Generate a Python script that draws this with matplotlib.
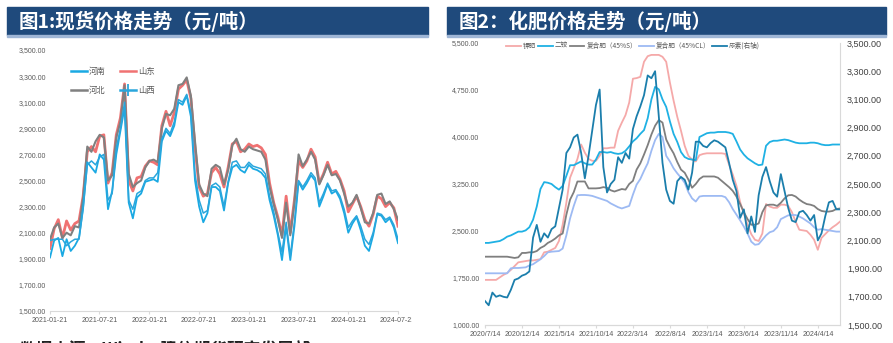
import numpy as np
import pandas as pd
import matplotlib
matplotlib.use("Agg")
import matplotlib.pyplot as plt
import matplotlib.ticker as mticker
from matplotlib.lines import Line2D
from matplotlib.patches import Rectangle
from matplotlib.transforms import Bbox, TransformedBbox

plt.rcParams['font.family'] = ['Noto Sans CJK SC', 'DejaVu Sans']

# ---- 图1 现货价格 (semi-monthly samples, 2021-01-21 .. 2024-07-21)
spot_dates = pd.date_range('2021-01-21', '2024-07-21', periods=85)
henan = [1910, 2040, 2060, 1920, 2050, 1960, 2000, 2060, 2300, 2640,
         2600, 2560, 2700, 2660, 2280, 2420, 2700, 2880, 3060, 2330,
         2210, 2370, 2400, 2490, 2500, 2510, 2490, 2800, 2880, 2840,
         2920, 3100, 3080, 3150, 2990, 2500, 2300, 2180, 2250, 2450,
         2450, 2420, 2270, 2480, 2600, 2620, 2580, 2560, 2620, 2590,
         2580, 2560, 2520, 2350, 2230, 2080, 1890, 2150, 1890, 2150,
         2490, 2430, 2480, 2540, 2500, 2300, 2380, 2470, 2400, 2420,
         2360, 2250, 2100, 2170, 2220, 2120, 2000, 1960, 2080, 2240,
         2230, 2180, 2210, 2140, 2020]
shandong = [1980, 2130, 2200, 2060, 2190, 2120, 2170, 2190, 2380, 2720,
            2760, 2720, 2840, 2850, 2480, 2560, 2850, 2980, 3240, 2500,
            2420, 2520, 2530, 2610, 2650, 2640, 2620, 2920, 3030, 2920,
            3020, 3200, 3230, 3270, 3130, 2750, 2450, 2380, 2400, 2560,
            2600, 2550, 2450, 2600, 2780, 2800, 2720, 2740, 2780, 2760,
            2770, 2750, 2700, 2480, 2330, 2220, 2080, 2380, 2100, 2350,
            2650, 2600, 2650, 2740, 2680, 2480, 2550, 2640, 2550, 2570,
            2510, 2420, 2260, 2320, 2380, 2300, 2200, 2150, 2240, 2380,
            2360, 2300, 2330, 2290, 2150]
hebei = [2050, 2140, 2170, 2060, 2100, 2080, 2150, 2140, 2370, 2760,
         2720, 2800, 2850, 2830, 2500, 2540, 2830, 2950, 3230, 2550,
         2450, 2480, 2500, 2600, 2650, 2660, 2640, 2900, 3010, 3000,
         3050, 3230, 3240, 3290, 3150, 2800, 2470, 2400, 2380, 2590,
         2620, 2600, 2470, 2580, 2770, 2820, 2740, 2720, 2760, 2740,
         2730, 2720, 2660, 2450, 2320, 2200, 2060, 2330, 2080, 2330,
         2700, 2610, 2660, 2720, 2660, 2470, 2540, 2620, 2540, 2550,
         2500, 2400, 2300, 2330, 2390, 2290, 2180, 2170, 2250, 2390,
         2400, 2320, 2340, 2280, 2200]
shanxi = [2040, 2050, 2050, 2050, 2000, 2030, 2050, 2050, 2280, 2620,
          2650, 2620, 2680, 2700, 2350, 2400, 2750, 2900, 3100, 2350,
          2280, 2400, 2420, 2500, 2520, 2520, 2560, 2820, 2900, 2860,
          2950, 3120, 3100, 3160, 3020, 2550, 2350, 2250, 2270, 2460,
          2480, 2450, 2300, 2490, 2640, 2650, 2600, 2600, 2640, 2610,
          2600, 2590, 2550, 2380, 2260, 2100, 1950, 2180, 1920, 2180,
          2500, 2450, 2500, 2560, 2520, 2330, 2400, 2480, 2420, 2430,
          2380, 2280, 2140, 2190, 2230, 2150, 2050, 2010, 2100, 2250,
          2240, 2200, 2220, 2160, 2050]
spot_ticks = pd.to_datetime(['2021-01-21', '2021-07-21', '2022-01-21', '2022-07-21',
                             '2023-01-21', '2023-07-21', '2024-01-21', '2024-07-21'])

# ---- 图2 化肥价格 (semi-monthly samples, 2020-07-14 .. 2024-07-14)
fert_dates = pd.date_range('2020-07-14', '2024-07-14', periods=97)
potash = [1720, 1720, 1720, 1720, 1760, 1800, 1830, 1880, 1940, 2000,
          2010, 2020, 2030, 2030, 2040, 2050, 2160, 2170, 2200, 2230,
          2340, 2600, 2950, 3350, 3500, 3650, 3880, 3750, 3650, 3620,
          3620, 3700, 3820, 3820, 3830, 3830, 4100, 4230, 4350, 4550,
          4930, 4940, 4960, 5200, 5290, 5310, 5310, 5310, 5280, 5200,
          4870, 4580, 4320, 4100, 3860, 3700, 3640, 3610, 3710, 3730,
          3740, 3740, 3740, 3740, 3740, 3730, 3560, 3400, 3220, 2960,
          2780, 2600, 2450, 2360, 2340, 2460, 2930, 2890, 2870, 2870,
          2920, 2920, 2900, 2800, 2650, 2520, 2510, 2500, 2440, 2360,
          2200, 2390, 2450, 2510, 2560, 2600, 2650]
dap = [2310, 2310, 2320, 2330, 2340, 2370, 2410, 2430, 2460, 2490,
       2490, 2510, 2560, 2680, 2890, 3170, 3280, 3270, 3250, 3200,
       3160, 3220, 3380, 3550, 3550, 3580, 3610, 3580, 3560, 3560,
       3640, 3760, 3760, 3750, 3760, 3740, 3730, 3740, 3780, 3850,
       3930, 3980, 4050, 4110, 4300, 4600, 4800, 4760, 4600, 4480,
       4250, 4050, 3920, 3760, 3680, 3650, 3640, 3630, 4000, 4030,
       4060, 4070, 4070, 4080, 4080, 4080, 4070, 4050, 3930, 3800,
       3720, 3660, 3620, 3580, 3550, 3560, 3860, 3920, 3940, 3940,
       3950, 3960, 3950, 3930, 3910, 3900, 3900, 3900, 3910, 3910,
       3900, 3880, 3870, 3870, 3880, 3880, 3880]
npk_s = [2090, 2090, 2090, 2090, 2090, 2090, 2090, 2080, 2070, 2080,
         2150, 2150, 2160, 2160, 2180, 2230, 2260, 2310, 2340, 2380,
         2430, 2460, 2760, 3000, 3120, 3290, 3290, 3290, 3180, 3180,
         3180, 3185, 3200, 3190, 3150, 3130, 3150, 3170, 3160, 3250,
         3300, 3480, 3580, 3720, 3870, 4040, 4180, 4270, 4230, 3960,
         3840, 3740, 3600, 3480, 3430, 3320, 3190, 3250, 3330, 3370,
         3370, 3370, 3370, 3350, 3300, 3250, 3200, 3140, 3050, 2930,
         2800, 2690, 2600, 2600, 2620, 2800, 2910, 2920, 2920, 2900,
         2950, 3020, 3070, 3075, 3050, 3000, 2960, 2930, 2920, 2900,
         2850, 2820, 2810, 2810, 2820, 2850, 2860]
npk_cl = [1825, 1825, 1825, 1825, 1825, 1825, 1825, 1905, 1910, 1910,
          1915, 1920, 1950, 1970, 2010, 2050, 2100, 2160, 2170, 2175,
          2180, 2220, 2430, 2700, 2900, 3070, 3075, 3075, 3070, 3060,
          3040, 3020, 3000, 2980, 2940, 2910, 2880, 2860, 2880, 2900,
          3080, 3240, 3330, 3460, 3580, 3780, 3950, 4050, 4000, 3700,
          3610, 3500, 3420, 3350, 3270, 3120, 3020, 2970, 3050, 3060,
          3060, 3060, 3060, 3060, 3060, 3040, 2960, 2850, 2760, 2670,
          2570, 2460, 2330, 2280, 2290, 2360, 2430, 2480, 2500, 2560,
          2690, 2720, 2750, 2755, 2755, 2730, 2700, 2660, 2620, 2560,
          2520, 2530, 2520, 2510, 2500, 2490, 2490]
urea = [1670, 1640, 1730, 1700, 1710, 1700, 1695, 1750, 1820, 1830,
        1850, 1860, 1880, 2120, 2210, 2090, 2150, 2120, 2180, 2200,
        2330, 2460, 2720, 2760, 2830, 2850, 2720, 2540, 2700, 2880,
        3060, 3170, 2620, 2440, 2500, 2530, 2690, 2650, 2720, 2680,
        2890, 2980, 3050, 3130, 3270, 3250, 3300, 2980, 2650, 2460,
        2380, 2360, 2520, 2550, 2530, 2460, 2580, 2800, 2800, 2770,
        2760, 2790, 2810, 2800, 2780, 2760, 2650, 2530, 2450, 2260,
        2320, 2150, 2270, 2160, 2420, 2550, 2620, 2520, 2440, 2410,
        2570, 2450, 2330, 2240, 2230, 2300, 2310, 2280, 2240, 2280,
        2100, 2150, 2270, 2370, 2380, 2320, 2320]
fert_ticks = pd.to_datetime(['2020-07-14', '2020-12-14', '2021-05-14', '2021-10-14',
                             '2022-03-14', '2022-08-14', '2023-01-14', '2023-06-14',
                             '2023-11-14', '2024-04-14'])

W, H = 893, 343
fig = plt.figure(figsize=(W / 100, H / 100), dpi=100)
fig.patch.set_facecolor('white')

def fx(px):
    return px / W

def fy(py):
    return 1 - py / H

BAR = '#1f4a7c'
for x0, x1, title in [(7, 428, '图1:现货价格走势（元/吨）'),
                      (447, 886, '图2：化肥价格走势（元/吨）')]:
    fig.patches.append(Rectangle((fx(x0), fy(35)), fx(x1 - x0), 28 / H,
                                 transform=fig.transFigure, color=BAR, zorder=0))
    fig.patches.append(Rectangle((fx(x0), fy(36.5)), fx(x1 - x0), 1.5 / H,
                                 transform=fig.transFigure, color='#9fb6d6', zorder=0))
    fig.text(fx(x0 + 12), fy(21), title, color='white', fontsize=14,
             fontweight='bold', va='center', ha='left')

num_font = ['Liberation Sans', 'DejaVu Sans']
fmt = mticker.StrMethodFormatter('{x:,.2f}')

# ---------------- left panel
ax1 = fig.add_axes([fx(50), fy(311), fx(398 - 50), (311 - 50) / H])
c_henan, c_shandong, c_hebei, c_shanxi = '#1aa9e3', '#f07272', '#808080', '#2aa6dc'
ax1.plot(spot_dates, henan, color=c_henan, lw=1.3, zorder=3)
ax1.plot(spot_dates, shandong, color=c_shandong, lw=2.0, zorder=2)
ax1.plot(spot_dates, hebei, color=c_hebei, lw=1.5, zorder=2.5)
ax1.plot(spot_dates, shanxi, color=c_shanxi, lw=1.1, zorder=3)
ax1.set_xlim(spot_dates[0], spot_dates[-1])
ax1.set_ylim(1500, 3500)
ax1.set_yticks(np.arange(1500, 3501, 200))
ax1.yaxis.set_major_formatter(fmt)
ax1.set_xticks(spot_ticks)
ax1.set_xticklabels([d.strftime('%Y-%m-%d') for d in spot_ticks])
for s in ['top', 'right', 'left']:
    ax1.spines[s].set_visible(False)
ax1.spines['bottom'].set_color('#d9d9d9')
ax1.tick_params(axis='y', length=0, labelsize=5, labelcolor='#595959', pad=3)
ax1.tick_params(axis='x', length=2.5, color='#d9d9d9', labelsize=5,
                labelcolor='#595959', pad=2)
for lbl in ax1.get_yticklabels() + ax1.get_xticklabels():
    lbl.set_family(num_font)
clip = TransformedBbox(Bbox([[0, 0], [fx(412), 1]]), fig.transFigure)
for lbl in ax1.get_xticklabels():
    lbl.set_clip_box(clip)
    lbl.set_clip_on(True)

h_henan = Line2D([], [], color=c_henan, lw=1.8)
h_shandong = Line2D([], [], color=c_shandong, lw=1.8)
h_hebei = Line2D([], [], color=c_hebei, lw=1.8)
h_shanxi = Line2D([], [], color=c_shanxi, lw=1.8, marker='|', markersize=9,
                  markeredgewidth=1.3)
ax1.legend([h_henan, h_hebei, h_shandong, h_shanxi], ['河南', '河北', '山东', '山西'],
           ncol=2, loc='center', bbox_to_anchor=(fx(113), fy(81)),
           bbox_transform=fig.transFigure, frameon=False, fontsize=6,
           handlelength=1.9, handletextpad=0.3, columnspacing=1.7,
           labelspacing=1.3, labelcolor='#595959')

# ---------------- right panel
ax2 = fig.add_axes([fx(485), fy(325), fx(840 - 485), (325 - 43) / H])
ax3 = ax2.twinx()
c_potash, c_dap, c_s, c_cl, c_urea = '#f5a9a9', '#1fb1e4', '#7f7f7f', '#9dbaf3', '#1b7eac'
l1, = ax2.plot(fert_dates, potash, color=c_potash, lw=1.3)
l2, = ax2.plot(fert_dates, dap, color=c_dap, lw=1.3)
l3, = ax2.plot(fert_dates, npk_s, color=c_s, lw=1.3)
l4, = ax2.plot(fert_dates, npk_cl, color=c_cl, lw=1.3)
l5, = ax3.plot(fert_dates, urea, color=c_urea, lw=1.3)
ax2.set_xlim(fert_dates[0], fert_dates[-1])
ax2.set_ylim(1000, 5500)
ax2.set_yticks(np.arange(1000, 5501, 750))
ax3.set_ylim(1500, 3500)
ax3.set_yticks(np.arange(1500, 3501, 200))
ax2.yaxis.set_major_formatter(fmt)
ax3.yaxis.set_major_formatter(fmt)
ax2.set_xticks(fert_ticks)
ax2.set_xticklabels([f'{d.year}/{d.month}/{d.day}' for d in fert_ticks])
for a in (ax2, ax3):
    for s in ['top', 'left', 'right']:
        a.spines[s].set_visible(False)
    a.spines['bottom'].set_color('#d9d9d9')
ax3.spines['right'].set_visible(True)
ax3.spines['right'].set_color('#d9d9d9')
ax2.tick_params(axis='y', length=0, labelsize=5, labelcolor='#595959', pad=4)
ax3.tick_params(axis='y', length=0, labelsize=6.5, labelcolor='#404040', pad=5)
ax2.tick_params(axis='x', length=2.5, color='#d9d9d9', labelsize=5,
                labelcolor='#595959', pad=2)
for lbl in ax2.get_yticklabels() + ax2.get_xticklabels() + ax3.get_yticklabels():
    lbl.set_family(num_font)

ax2.legend([l1, l2, l3, l4, l5],
           ['钾肥', '二铵', '复合肥（45%S）', '复合肥（45%CL）', '尿素(右轴)'],
           ncol=5, loc='center', bbox_to_anchor=(fx(633), fy(46)),
           bbox_transform=fig.transFigure, frameon=False, fontsize=4.8,
           handlelength=2.2, handletextpad=0.3, columnspacing=0.3,
           labelcolor='#595959')

# source line along the bottom edge
fig.text(fx(20), fy(351), '数据来源：Wind，建信期货研究发展部', fontsize=12,
         fontweight='bold', color='#222222', va='center', ha='left')

fig.savefig('out.png', dpi=100, facecolor='white')
